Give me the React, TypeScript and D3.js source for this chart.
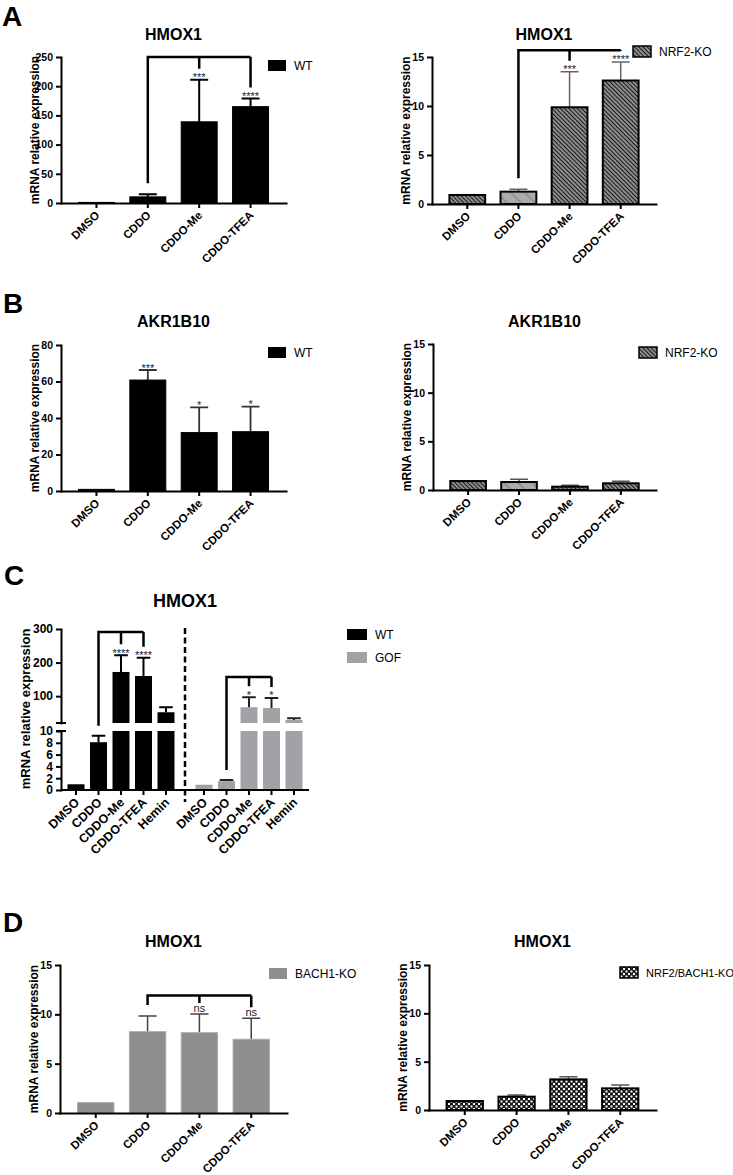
import React, { useRef, useEffect } from "react";
import * as d3 from "d3";

const FONT = "'Liberation Sans', Arial, Helvetica, sans-serif";

const treatments = ["DMSO", "CDDO", "CDDO-Me", "CDDO-TFEA"];
const treatmentsC = ["DMSO", "CDDO", "CDDO-Me", "CDDO-TFEA", "Hemin"];
const groupsC = ["WT", "GOF"];

// A - HMOX1
const hmox1WT = [1, 10.5, 139, 165];
const hmox1WTSd = [0, 4.5, 72, 14];
const hmox1WTSig = ["", "", "***", "****"];
const hmox1NrfKO = [0.92, 1.26, 9.87, 12.6];
const hmox1NrfKOSd = [0, 0.24, 3.63, 1.9];
const hmox1NrfKOSig = ["", "", "***", "****"];

// B - AKR1B10
const akrWT = [0.9, 60.8, 32, 32.5];
const akrWTSd = [0, 5.5, 13.8, 13.7];
const akrWTSig = ["", "***", "*", "*"];
const akrNrfKO = [0.92, 0.82, 0.34, 0.69];
const akrNrfKOSd = [0, 0.28, 0.14, 0.2];
const noSig = ["", "", "", ""];

// C - HMOX1 WT vs GOF
const hmox1CWT = [0.97, 8.1, 172, 160, 52];
const hmox1CWTSd = [0, 1.1, 50, 54, 15];
const hmox1CWTSig = ["", "", "****", "****", ""];
const hmox1CGOF = [0.9, 1.5, 67, 64.7, 29];
const hmox1CGOFSd = [0, 0.2, 30, 30, 5];
const hmox1CGOFSig = ["", "", "*", "*", ""];

// D - HMOX1 BACH1-KO and double KO
const hmox1Bach = [1.05, 8.24, 8.14, 7.47];
const hmox1BachSd = [0, 1.59, 1.89, 2.13];
const hmox1BachSig = ["", "", "ns", "ns"];
const hmox1DKO = [0.93, 1.38, 3.17, 2.24];
const hmox1DKOSd = [0, 0.17, 0.28, 0.35];

const ticksA1 = [0, 50, 100, 150, 200, 250];
const ticks15 = [0, 5, 10, 15];
const ticksB1 = [0, 20, 40, 60, 80];
const ticksCLow = [0, 2, 4, 6, 8, 10];
const ticksCHigh = [100, 200, 300];

// comparison brackets (level in data units)
const bracketA1 = { control: "CDDO", targets: ["CDDO-Me", "CDDO-TFEA"], level: 250 };
const bracketA2 = { control: "CDDO", targets: ["CDDO-Me", "CDDO-TFEA"], level: 15.7 };
const bracketCWT = { control: "CDDO", targets: ["CDDO-Me", "CDDO-TFEA"], level: 291 };
const bracketCGOF = { control: "CDDO", targets: ["CDDO-Me", "CDDO-TFEA"], level: 157 };
const bracketD1 = { control: "CDDO", targets: ["CDDO-Me", "CDDO-TFEA"], level: 11.9 };

const styleAxis = (sel, fs) => {
  sel.attr("font-family", FONT).attr("font-size", fs);
  sel.select(".domain").attr("stroke", "#000").attr("stroke-width", 2).attr("stroke-linecap", "square");
  sel.selectAll(".tick line").attr("stroke", "#000").attr("stroke-width", 2);
  sel.selectAll(".tick text").attr("font-weight", "bold").attr("fill", "#000");
};

const rotateLabels = (sel) => {
  sel
    .selectAll(".tick text")
    .attr("x", 0)
    .attr("y", 0)
    .attr("dy", "0.35em")
    .attr("text-anchor", "end")
    .attr("transform", "translate(1,10) rotate(-45)");
};

const yTitle = (g, x, y, fs) => {
  g.append("text")
    .attr("transform", `translate(${x},${y}) rotate(-90)`)
    .attr("text-anchor", "middle")
    .attr("font-size", fs)
    .attr("font-weight", "bold")
    .text("mRNA relative expression");
};

const legendItem = (g, lg) => {
  g.append("rect")
    .attr("x", lg.x)
    .attr("y", lg.y)
    .attr("width", lg.w || 18)
    .attr("height", 11)
    .attr("fill", lg.fill)
    .attr("stroke", lg.stroke || "none")
    .attr("stroke-width", 1.5);
  g.append("text")
    .attr("x", lg.x + (lg.w || 18) + 8)
    .attr("y", lg.y + 10)
    .attr("font-size", lg.fs || 12)
    .text(lg.label);
};

function drawPanel(svg, p) {
  const g = svg.append("g").attr("font-family", FONT);
  const x = d3.scaleBand().domain(treatments).range([p.left, p.right]).paddingInner(0.3).paddingOuter(0.34);
  const y = d3.scaleLinear().domain([0, p.max]).range([p.bottom, p.top]);
  const bw = x.bandwidth();
  const cx = (name) => x(name) + bw / 2;

  g.append("text")
    .attr("x", (p.left + p.right) / 2)
    .attr("y", p.titleY)
    .attr("text-anchor", "middle")
    .attr("font-size", 16)
    .attr("font-weight", "bold")
    .text(p.title);

  // error bars (upper only)
  p.values.forEach((v, i) => {
    if (!p.sd[i]) return;
    const c = cx(treatments[i]);
    const top = y(v + p.sd[i]);
    g.append("path")
      .attr("d", `M${c},${y(v)}V${top}M${c - bw / 4},${top}H${c + bw / 4}`)
      .attr("stroke", p.errColor)
      .attr("stroke-width", p.errWidth)
      .attr("fill", "none");
  });

  g.selectAll(".bar")
    .data(p.values)
    .join("rect")
    .attr("class", "bar")
    .attr("x", (d, i) => x(treatments[i]))
    .attr("y", (d) => y(d))
    .attr("width", bw)
    .attr("height", (d) => p.bottom - y(d))
    .attr("fill", (d, i) => p.fills[i])
    .attr("stroke", p.stroke)
    .attr("stroke-width", p.strokeWidth);

  // significance marks
  p.sig.forEach((s, i) => {
    if (!s) return;
    const top = y(p.values[i] + p.sd[i]);
    g.append("text")
      .attr("x", cx(treatments[i]))
      .attr("y", s === "ns" ? top - 2.5 : top + 1.5)
      .attr("text-anchor", "middle")
      .attr("font-size", 11)
      .attr("fill", "#222")
      .text(s);
  });

  if (p.bracket) {
    const b = p.bracket;
    const errY = (name) => {
      const i = treatments.indexOf(name);
      return y(p.values[i] + p.sd[i]);
    };
    const by = y(b.level);
    const last = b.targets[b.targets.length - 1];
    let d = `M${cx(b.control)},${errY(b.control) - 11}V${by}H${cx(last)}`;
    b.targets.forEach((t) => {
      d += `M${cx(t)},${by}V${Math.max(by, errY(t) - 11)}`;
    });
    g.append("path").attr("d", d).attr("fill", "none").attr("stroke", "#000").attr("stroke-width", 2.5);
  }

  const ya = g
    .append("g")
    .attr("transform", `translate(${p.left},0)`)
    .call(d3.axisLeft(y).tickValues(p.ticks).tickSize(5).tickSizeOuter(0).tickPadding(3));
  styleAxis(ya, 10.5);

  const xa = g
    .append("g")
    .attr("transform", `translate(0,${p.bottom})`)
    .call(d3.axisBottom(x).tickSize(5).tickSizeOuter(0));
  styleAxis(xa, 11.5);
  rotateLabels(xa);

  yTitle(g, p.left - 22, (p.top + p.bottom) / 2, 12);
  legendItem(g, p.legend);
}

function drawPanelC(svg) {
  const g = svg.append("g").attr("font-family", FONT);
  const left = 61;
  const right = 309;
  const bottom = 790;
  const gx = d3.scaleBand().domain(groupsC).range([left, right]).paddingInner(0.0625);
  const tx = d3.scaleBand().domain(treatmentsC).range([0, gx.bandwidth()]).paddingInner(0.245).paddingOuter(0.29);
  const yLow = d3.scaleLinear().domain([0, 10]).range([bottom, 731]);
  const yHigh = d3.scaleLinear().domain([20, 300]).range([723, 629]);
  const yC = (v) => (v <= 10 ? yLow(v) : v >= 20 ? yHigh(v) : 727);
  const bw = tx.bandwidth();

  g.append("text")
    .attr("x", (left + right) / 2)
    .attr("y", 607)
    .attr("text-anchor", "middle")
    .attr("font-size", 18)
    .attr("font-weight", "bold")
    .text("HMOX1");

  const groups = [
    { name: "WT", values: hmox1CWT, sd: hmox1CWTSd, sig: hmox1CWTSig, fill: "#000", err: "#000", bracket: bracketCWT },
    { name: "GOF", values: hmox1CGOF, sd: hmox1CGOFSd, sig: hmox1CGOFSig, fill: "#a1a1a6", err: "#222", bracket: bracketCGOF },
  ];

  groups.forEach((grp) => {
    const cx = (name) => gx(grp.name) + tx(name) + bw / 2;
    grp.values.forEach((v, i) => {
      const name = treatmentsC[i];
      const x0 = gx(grp.name) + tx(name);
      if (grp.sd[i]) {
        const c = cx(name);
        const top = yC(v + grp.sd[i]);
        g.append("path")
          .attr("d", `M${c},${yC(v)}V${top}M${c - bw * 0.4},${top}H${c + bw * 0.4}`)
          .attr("stroke", grp.err)
          .attr("stroke-width", 2)
          .attr("fill", "none");
      }
      const lowTop = yLow(Math.min(v, 10));
      g.append("rect").attr("x", x0).attr("y", lowTop).attr("width", bw).attr("height", bottom - lowTop).attr("fill", grp.fill);
      if (v > 20) {
        g.append("rect").attr("x", x0).attr("y", yHigh(v)).attr("width", bw).attr("height", 723 - yHigh(v)).attr("fill", grp.fill);
      }
      if (grp.sig[i]) {
        g.append("text")
          .attr("x", cx(name))
          .attr("y", yC(v + grp.sd[i]) + 1.5)
          .attr("text-anchor", "middle")
          .attr("font-size", 11)
          .attr("fill", "#222")
          .text(grp.sig[i]);
      }
    });

    const b = grp.bracket;
    const errY = (name) => {
      const i = treatmentsC.indexOf(name);
      return yC(grp.values[i] + grp.sd[i]);
    };
    const by = yHigh(b.level);
    const last = b.targets[b.targets.length - 1];
    let d = `M${cx(b.control)},${errY(b.control) - 10}V${by}H${cx(last)}`;
    b.targets.forEach((t) => {
      d += `M${cx(t)},${by}V${Math.max(by, errY(t) - 11)}`;
    });
    g.append("path").attr("d", d).attr("fill", "none").attr("stroke", "#000").attr("stroke-width", 2.5);

    const xa = g
      .append("g")
      .attr("transform", `translate(${gx(grp.name)},${bottom})`)
      .call(d3.axisBottom(tx).tickSize(5).tickSizeOuter(0));
    styleAxis(xa, 12.5);
    xa.select(".domain").remove();
    rotateLabels(xa);
  });

  g.append("line").attr("x1", left).attr("x2", right).attr("y1", bottom).attr("y2", bottom).attr("stroke", "#000").attr("stroke-width", 2);

  // dashed separator between genotypes
  const sepX = (gx("WT") + gx.bandwidth() + gx("GOF")) / 2;
  g.append("line")
    .attr("x1", sepX)
    .attr("x2", sepX)
    .attr("y1", 628)
    .attr("y2", 802)
    .attr("stroke", "#000")
    .attr("stroke-width", 2.5)
    .attr("stroke-dasharray", "6,3.5");

  const yaLow = g
    .append("g")
    .attr("transform", `translate(${left},0)`)
    .call(d3.axisLeft(yLow).tickValues(ticksCLow).tickSize(5).tickSizeOuter(0).tickPadding(3));
  styleAxis(yaLow, 12);
  const yaHigh = g
    .append("g")
    .attr("transform", `translate(${left},0)`)
    .call(d3.axisLeft(yHigh).tickValues(ticksCHigh).tickSize(5).tickSizeOuter(0).tickPadding(3));
  styleAxis(yaHigh, 12);

  // axis break marks
  [yHigh(20), yLow(10)].forEach((yy) => {
    g.append("line").attr("x1", left - 5).attr("x2", left + 5).attr("y1", yy).attr("y2", yy).attr("stroke", "#000").attr("stroke-width", 2);
  });

  yTitle(g, 30, 709, 13);

  legendItem(g, { x: 347, y: 629, w: 20, label: "WT", fill: "#000" });
  legendItem(g, { x: 347, y: 652, w: 20, label: "GOF", fill: "#a1a1a6" });
}

const App = () => {
  const svgRef = useRef(null);

  useEffect(() => {
    const svg = d3.select(svgRef.current);
    svg.selectAll("*").remove();

    const defs = svg.append("defs");
    const hd = defs
      .append("pattern")
      .attr("id", "hatchDense")
      .attr("patternUnits", "userSpaceOnUse")
      .attr("width", 3)
      .attr("height", 3)
      .attr("patternTransform", "rotate(45)");
    hd.append("rect").attr("width", 3).attr("height", 3).attr("fill", "#a8a8a8");
    hd.append("line").attr("x1", 0).attr("x2", 3).attr("y1", 1.5).attr("y2", 1.5).attr("stroke", "#1a1a1a").attr("stroke-width", 1.4);

    const hs = defs
      .append("pattern")
      .attr("id", "hatchSparse")
      .attr("patternUnits", "userSpaceOnUse")
      .attr("width", 10)
      .attr("height", 10)
      .attr("patternTransform", "rotate(45)");
    hs.append("rect").attr("width", 10).attr("height", 10).attr("fill", "#ababab");
    hs.append("line").attr("x1", 0).attr("x2", 10).attr("y1", 5).attr("y2", 5).attr("stroke", "#7a7a7a").attr("stroke-width", 1);

    const ck = defs.append("pattern").attr("id", "checker").attr("patternUnits", "userSpaceOnUse").attr("width", 5).attr("height", 5);
    ck.append("rect").attr("width", 5).attr("height", 5).attr("fill", "#1a1a1a");
    ck.append("rect").attr("x", 0.5).attr("y", 0.5).attr("width", 2).attr("height", 2).attr("fill", "#fff");
    ck.append("rect").attr("x", 3).attr("y", 3).attr("width", 2).attr("height", 2).attr("fill", "#fff");

    const hatchFills = ["url(#hatchDense)", "url(#hatchSparse)", "url(#hatchDense)", "url(#hatchDense)"];

    // panel letters
    [
      ["A", 2, 26],
      ["B", 3, 313],
      ["C", 4, 585],
      ["D", 3, 932],
    ].forEach(([t, x, y]) => {
      svg.append("text").attr("x", x).attr("y", y).attr("font-family", FONT).attr("font-size", 28).attr("font-weight", "bold").text(t);
    });

    drawPanel(svg, {
      left: 61, right: 286, top: 57, bottom: 203, max: 250, ticks: ticksA1,
      title: "HMOX1", titleY: 40,
      values: hmox1WT, sd: hmox1WTSd, sig: hmox1WTSig,
      fills: ["#000", "#000", "#000", "#000"], stroke: "#000", strokeWidth: 1,
      errColor: "#000", errWidth: 2, bracket: bracketA1,
      legend: { x: 268, y: 60, label: "WT", fill: "#000" },
    });
    drawPanel(svg, {
      left: 432, right: 656, top: 57, bottom: 204, max: 15, ticks: ticks15,
      title: "HMOX1", titleY: 40,
      values: hmox1NrfKO, sd: hmox1NrfKOSd, sig: hmox1NrfKOSig,
      fills: hatchFills, stroke: "#000", strokeWidth: 2,
      errColor: "#666", errWidth: 1.5, bracket: bracketA2,
      legend: { x: 633, y: 46, label: "NRF2-KO", fill: "url(#hatchDense)", stroke: "#000" },
    });
    drawPanel(svg, {
      left: 61, right: 286, top: 345, bottom: 491, max: 80, ticks: ticksB1,
      title: "AKR1B10", titleY: 327,
      values: akrWT, sd: akrWTSd, sig: akrWTSig,
      fills: ["#000", "#000", "#000", "#000"], stroke: "#000", strokeWidth: 1,
      errColor: "#333", errWidth: 1.8,
      legend: { x: 268, y: 347, label: "WT", fill: "#000" },
    });
    drawPanel(svg, {
      left: 433, right: 656, top: 344, bottom: 490, max: 15, ticks: ticks15,
      title: "AKR1B10", titleY: 327,
      values: akrNrfKO, sd: akrNrfKOSd, sig: noSig,
      fills: hatchFills, stroke: "#000", strokeWidth: 2,
      errColor: "#555", errWidth: 1.5,
      legend: { x: 639, y: 347, label: "NRF2-KO", fill: "url(#hatchDense)", stroke: "#000" },
    });

    drawPanelC(svg);

    drawPanel(svg, {
      left: 60, right: 287, top: 965, bottom: 1113, max: 15, ticks: ticks15,
      title: "HMOX1", titleY: 947,
      values: hmox1Bach, sd: hmox1BachSd, sig: hmox1BachSig,
      fills: ["#8e8e8e", "#8e8e8e", "#8e8e8e", "#8e8e8e"], stroke: "#a9a9a9", strokeWidth: 1,
      errColor: "#444", errWidth: 1.5, bracket: bracketD1,
      legend: { x: 269, y: 968, label: "BACH1-KO", fill: "#8e8e8e" },
    });
    drawPanel(svg, {
      left: 429, right: 656, top: 965, bottom: 1110, max: 15, ticks: ticks15,
      title: "HMOX1", titleY: 947,
      values: hmox1DKO, sd: hmox1DKOSd, sig: noSig,
      fills: ["url(#checker)", "url(#checker)", "url(#checker)", "url(#checker)"], stroke: "#000", strokeWidth: 2,
      errColor: "#555", errWidth: 1.5,
      legend: { x: 620, y: 967, label: "NRF2/BACH1-KO", fill: "url(#checker)", stroke: "#000", fs: 11 },
    });
  }, []);

  return (
    <svg
      ref={svgRef}
      width={733}
      height={1175}
      style={{ position: "absolute", left: 0, top: 0, background: "#fff" }}
    ></svg>
  );
};

export default App;
